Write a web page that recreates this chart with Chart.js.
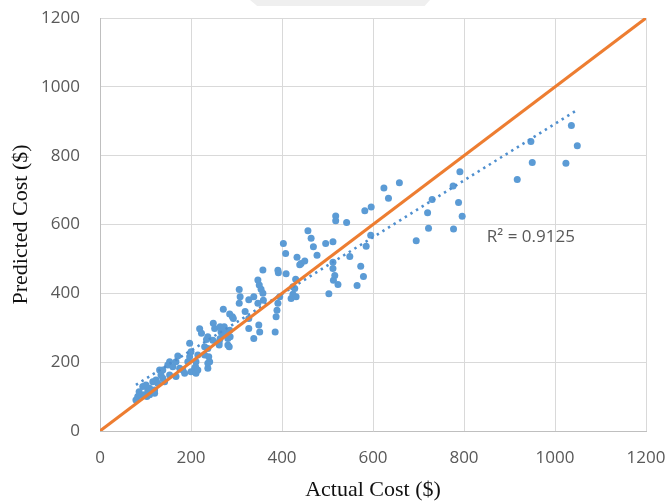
<!DOCTYPE html>
<html>
<head>
<meta charset="utf-8">
<script src="https://cdn.jsdelivr.net/npm/chart.js@4/dist/chart.umd.min.js"></script>
<style>
  html, body { margin: 0; padding: 0; background: #fff; }
  #wrap { position: relative; width: 667px; height: 501px; }
  #wrap canvas { position: absolute; left: 0; top: 0; }
  .mark { position: absolute; left: 250px; top: 0; width: 180px; height: 6px; background: #efefef;
          clip-path: polygon(0 0, 100% 0, 97% 100%, 4% 100%); }
</style>
</head>
<body>
<div id="wrap">
  <div class="mark"></div>
  <canvas id="c" width="667" height="501"></canvas>
</div>
<script>
// actual vs predicted cost
const actualCost = [
  79, 83, 86, 88, 94, 97, 101, 103, 105, 109, 109, 116, 120, 120, 123, 127, 131, 134, 138, 138,
  142, 149, 153, 153, 160, 167, 167, 171, 175, 182, 186, 193, 197, 197, 200, 200, 208, 210, 211, 211,
  215, 215, 219, 223, 230, 230, 234, 237, 237, 237, 237, 239, 241, 248, 249, 252, 262, 262, 264, 264,
  266, 270, 271, 273, 278, 281, 281, 284, 285, 285, 286, 291, 293, 306, 306, 308, 319, 327, 327, 327,
  338, 338, 347, 347, 349, 350, 351, 354, 358, 358, 359, 385, 387, 389, 391, 391, 392, 395, 403, 408,
  409, 420, 424, 424, 428, 430, 431, 433, 439, 442, 450, 457, 464, 469, 477, 496, 503, 512, 512, 512,
  513, 516, 523, 518, 518, 542, 549, 565, 573, 579, 582, 585, 595, 596, 624, 634, 658, 695, 720, 722,
  730, 776, 777, 788, 791, 796, 917, 947, 950, 1024, 1036, 1049
];
const predictedCost = [
  90, 100, 114, 105, 129, 105, 134, 100, 119, 124, 105, 143, 119, 110, 148, 139, 177, 163, 177, 153,
  143, 192, 201, 163, 187, 201, 158, 218, 182, 177, 168, 201, 216, 255, 230, 172, 182, 187, 201, 168,
  221, 177, 297, 284, 221, 245, 266, 274, 240, 182, 197, 216, 201, 264, 313, 298, 259, 250, 269, 303,
  288, 284, 354, 303, 288, 250, 269, 245, 293, 340, 274, 332, 327, 411, 371, 390, 347, 381, 327, 298,
  390, 269, 439, 371, 308, 424, 288, 412, 468, 400, 380, 288, 332, 351, 371, 467, 460, 390, 545, 516,
  457, 385, 397, 419, 414, 441, 390, 505, 483, 487, 494, 582, 560, 535, 511, 545, 399, 550, 490, 472,
  438, 452, 426, 625, 611, 606, 507, 423, 479, 449, 640, 537, 569, 651, 706, 676, 721, 553, 634, 589,
  673, 712, 587, 664, 753, 624, 731, 841, 780, 778, 888, 829
];

// y = x reference line and the excel linear trendline
const parityX = [0, 1200];
const parityY = [0, 1200];
const trendX = [79, 1049];
const trendY = [134, 933];

const axisTicks = [0, 200, 400, 600, 800, 1000, 1200];
const r2Text = "R\u00B2 = 0.9125";

const toPoints = (xs, ys) => xs.map((x, i) => ({ x: x, y: ys[i] }));

const tickFont = { family: "'Open Sans', sans-serif", size: 17 };
const titleFont = { family: "'Liberation Serif', 'Times New Roman', serif", size: 22, lineHeight: 1 };

// let the labels hang into the layout padding instead of shrinking the plot
function noOverhang(s) {
  s.paddingTop = 0; s.paddingBottom = 0; s.paddingLeft = 0; s.paddingRight = 0;
}

const r2Plugin = {
  id: "r2",
  afterDatasetsDraw(chart) {
    const { ctx, scales } = chart;
    ctx.save();
    ctx.font = "17px 'Open Sans', sans-serif";
    ctx.fillStyle = "#595959";
    ctx.textAlign = "center";
    ctx.textBaseline = "middle";
    ctx.fillText(r2Text, scales.x.getPixelForValue(947), scales.y.getPixelForValue(563));
    ctx.restore();
  }
};

new Chart(document.getElementById("c"), {
  type: "scatter",
  data: {
    datasets: [
      {
        label: "y = x",
        data: toPoints(parityX, parityY),
        showLine: true,
        borderColor: "#ed7d31",
        borderWidth: 3,
        pointRadius: 0
      },
      {
        label: "trend",
        data: toPoints(trendX, trendY),
        showLine: true,
        borderColor: "#4f8fcf",
        borderWidth: 2.6,
        borderDash: [2.4, 4.2],
        pointRadius: 0
      },
      {
        label: "cost",
        data: toPoints(actualCost, predictedCost),
        backgroundColor: "#5b9bd5",
        borderWidth: 0,
        pointRadius: 3.5
      }
    ]
  },
  options: {
    responsive: false,
    animation: false,
    layout: { padding: { left: 0, right: 21, top: 18, bottom: 0 } },
    plugins: { legend: { display: false }, tooltip: { enabled: false } },
    scales: {
      x: {
        type: "linear",
        min: 0,
        max: 1200,
        afterBuildTicks(s) { s.ticks = axisTicks.map(v => ({ value: v })); },
        afterFit(s) { s.height = 70; noOverhang(s); },
        ticks: { color: "#595959", font: tickFont, padding: 16.5, maxRotation: 0, callback: v => String(v) },
        grid: { color: "#d9d9d9", drawTicks: false },
        border: { color: "#bfbfbf" },
        title: { display: true, text: "Actual Cost ($)", color: "#111", font: titleFont, padding: { top: 0, bottom: 0 } }
      },
      y: {
        type: "linear",
        min: 0,
        max: 1200,
        afterBuildTicks(s) { s.ticks = axisTicks.map(v => ({ value: v })); },
        afterFit(s) { s.width = 100; noOverhang(s); },
        ticks: { color: "#595959", font: tickFont, padding: 20, callback: v => String(v) },
        grid: { color: "#d9d9d9", drawTicks: false },
        border: { color: "#bfbfbf" },
        title: { display: true, text: "Predicted Cost ($)", color: "#111", font: titleFont, padding: { top: 10, bottom: 0 } }
      }
    }
  },
  plugins: [r2Plugin]
});
</script>
</body>
</html>
